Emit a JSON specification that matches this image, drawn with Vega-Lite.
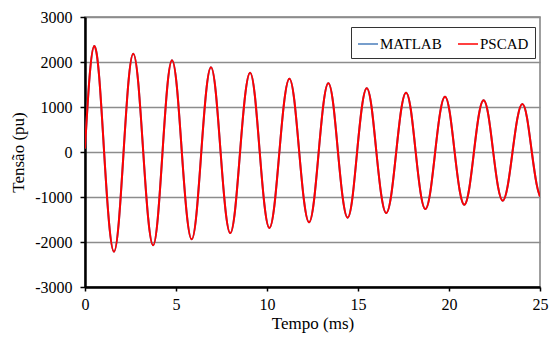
{
  "$schema": "https://vega.github.io/schema/vega-lite/v6.json",
  "width": 455,
  "height": 270,
  "autosize": {"type": "none"},
  "padding": {"left": 85, "top": 17, "right": 13, "bottom": 51},
  "background": "white",
  "config": {
    "font": "Liberation Serif",
    "view": {"stroke": "#808080", "strokeWidth": 1.5},
    "style": {
      "guide-label": {"font": "Liberation Serif", "fill": "#000"},
      "guide-title": {"font": "Liberation Serif", "fill": "#000", "fontWeight": "normal"}
    },
    "axis": {"labelFont": "Liberation Serif", "titleFont": "Liberation Serif", "labelColor": "#000", "titleColor": "#000", "titleFontWeight": "normal"}
  },
  "data": {
    "values": [
      {"t": 0.00, "MATLAB": 80, "PSCAD": 80},
      {"t": 0.25, "MATLAB": 1666, "PSCAD": 1666},
      {"t": 0.51, "MATLAB": 2356, "PSCAD": 2356},
      {"t": 0.78, "MATLAB": 1666, "PSCAD": 1666},
      {"t": 1.05, "MATLAB": 0, "PSCAD": 0},
      {"t": 1.32, "MATLAB": -1566, "PSCAD": -1566},
      {"t": 1.59, "MATLAB": -2215, "PSCAD": -2215},
      {"t": 1.855, "MATLAB": -1566, "PSCAD": -1566},
      {"t": 2.12, "MATLAB": 0, "PSCAD": 0},
      {"t": 2.385, "MATLAB": 1545, "PSCAD": 1545},
      {"t": 2.65, "MATLAB": 2185, "PSCAD": 2185},
      {"t": 2.925, "MATLAB": 1545, "PSCAD": 1545},
      {"t": 3.20, "MATLAB": 0, "PSCAD": 0},
      {"t": 3.47, "MATLAB": -1466, "PSCAD": -1466},
      {"t": 3.74, "MATLAB": -2074, "PSCAD": -2074},
      {"t": 4.00, "MATLAB": -1466, "PSCAD": -1466},
      {"t": 4.26, "MATLAB": 0, "PSCAD": 0},
      {"t": 4.52, "MATLAB": 1440, "PSCAD": 1440},
      {"t": 4.78, "MATLAB": 2037, "PSCAD": 2037},
      {"t": 5.05, "MATLAB": 1440, "PSCAD": 1440},
      {"t": 5.32, "MATLAB": 0, "PSCAD": 0},
      {"t": 5.59, "MATLAB": -1372, "PSCAD": -1372},
      {"t": 5.86, "MATLAB": -1941, "PSCAD": -1941},
      {"t": 6.125, "MATLAB": -1372, "PSCAD": -1372},
      {"t": 6.39, "MATLAB": 0, "PSCAD": 0},
      {"t": 6.655, "MATLAB": 1330, "PSCAD": 1330},
      {"t": 6.92, "MATLAB": 1881, "PSCAD": 1881},
      {"t": 7.185, "MATLAB": 1330, "PSCAD": 1330},
      {"t": 7.45, "MATLAB": 0, "PSCAD": 0},
      {"t": 7.715, "MATLAB": -1273, "PSCAD": -1273},
      {"t": 7.98, "MATLAB": -1800, "PSCAD": -1800},
      {"t": 8.25, "MATLAB": -1273, "PSCAD": -1273},
      {"t": 8.52, "MATLAB": 0, "PSCAD": 0},
      {"t": 8.795, "MATLAB": 1246, "PSCAD": 1246},
      {"t": 9.07, "MATLAB": 1763, "PSCAD": 1763},
      {"t": 9.335, "MATLAB": 1246, "PSCAD": 1246},
      {"t": 9.60, "MATLAB": 0, "PSCAD": 0},
      {"t": 9.865, "MATLAB": -1194, "PSCAD": -1194},
      {"t": 10.13, "MATLAB": -1689, "PSCAD": -1689},
      {"t": 10.405, "MATLAB": -1194, "PSCAD": -1194},
      {"t": 10.68, "MATLAB": 0, "PSCAD": 0},
      {"t": 10.955, "MATLAB": 1152, "PSCAD": 1152},
      {"t": 11.23, "MATLAB": 1630, "PSCAD": 1630},
      {"t": 11.50, "MATLAB": 1152, "PSCAD": 1152},
      {"t": 11.77, "MATLAB": 0, "PSCAD": 0},
      {"t": 12.04, "MATLAB": -1105, "PSCAD": -1105},
      {"t": 12.31, "MATLAB": -1563, "PSCAD": -1563},
      {"t": 12.575, "MATLAB": -1105, "PSCAD": -1105},
      {"t": 12.84, "MATLAB": 0, "PSCAD": 0},
      {"t": 13.105, "MATLAB": 1079, "PSCAD": 1079},
      {"t": 13.37, "MATLAB": 1526, "PSCAD": 1526},
      {"t": 13.635, "MATLAB": 1079, "PSCAD": 1079},
      {"t": 13.90, "MATLAB": 0, "PSCAD": 0},
      {"t": 14.165, "MATLAB": -1032, "PSCAD": -1032},
      {"t": 14.43, "MATLAB": -1459, "PSCAD": -1459},
      {"t": 14.69, "MATLAB": -1032, "PSCAD": -1032},
      {"t": 14.95, "MATLAB": 0, "PSCAD": 0},
      {"t": 15.215, "MATLAB": 1000, "PSCAD": 1000},
      {"t": 15.48, "MATLAB": 1415, "PSCAD": 1415},
      {"t": 15.745, "MATLAB": 1000, "PSCAD": 1000},
      {"t": 16.01, "MATLAB": 0, "PSCAD": 0},
      {"t": 16.28, "MATLAB": -959, "PSCAD": -959},
      {"t": 16.55, "MATLAB": -1356, "PSCAD": -1356},
      {"t": 16.825, "MATLAB": -959, "PSCAD": -959},
      {"t": 17.10, "MATLAB": 0, "PSCAD": 0},
      {"t": 17.37, "MATLAB": 933, "PSCAD": 933},
      {"t": 17.64, "MATLAB": 1319, "PSCAD": 1319},
      {"t": 17.905, "MATLAB": 933, "PSCAD": 933},
      {"t": 18.17, "MATLAB": 0, "PSCAD": 0},
      {"t": 18.435, "MATLAB": -896, "PSCAD": -896},
      {"t": 18.70, "MATLAB": -1267, "PSCAD": -1267},
      {"t": 18.97, "MATLAB": -896, "PSCAD": -896},
      {"t": 19.24, "MATLAB": 0, "PSCAD": 0},
      {"t": 19.51, "MATLAB": 870, "PSCAD": 870},
      {"t": 19.78, "MATLAB": 1230, "PSCAD": 1230},
      {"t": 20.045, "MATLAB": 870, "PSCAD": 870},
      {"t": 20.31, "MATLAB": 0, "PSCAD": 0},
      {"t": 20.575, "MATLAB": -827, "PSCAD": -827},
      {"t": 20.84, "MATLAB": -1170, "PSCAD": -1170},
      {"t": 21.105, "MATLAB": -827, "PSCAD": -827},
      {"t": 21.37, "MATLAB": 0, "PSCAD": 0},
      {"t": 21.635, "MATLAB": 812, "PSCAD": 812},
      {"t": 21.90, "MATLAB": 1148, "PSCAD": 1148},
      {"t": 22.165, "MATLAB": 812, "PSCAD": 812},
      {"t": 22.43, "MATLAB": 0, "PSCAD": 0},
      {"t": 22.69, "MATLAB": -764, "PSCAD": -764},
      {"t": 22.95, "MATLAB": -1081, "PSCAD": -1081},
      {"t": 23.22, "MATLAB": -764, "PSCAD": -764},
      {"t": 23.49, "MATLAB": 0, "PSCAD": 0},
      {"t": 23.76, "MATLAB": 754, "PSCAD": 754},
      {"t": 24.03, "MATLAB": 1067, "PSCAD": 1067},
      {"t": 24.29, "MATLAB": 754, "PSCAD": 754},
      {"t": 24.55, "MATLAB": 0, "PSCAD": 0},
      {"t": 24.81, "MATLAB": -707, "PSCAD": -707},
      {"t": 25.00, "MATLAB": -990, "PSCAD": -990}
    ]
  },
  "transform": [{"fold": ["MATLAB", "PSCAD"], "as": ["series", "v"]}],
  "mark": {"type": "line", "interpolate": "natural", "strokeWidth": 2, "clip": true},
  "encoding": {
    "x": {
      "field": "t", "type": "quantitative",
      "scale": {"domain": [0, 25], "nice": false},
      "axis": {
        "title": "Tempo (ms)", "titleFont": "Liberation Serif", "titleFontSize": 17, "titlePadding": 3,
        "values": [0, 5, 10, 15, 20, 25],
        "labelFont": "Liberation Serif", "labelFontSize": 16, "labelPadding": 5, "labelFlush": false,
        "tickSize": 4, "tickColor": "#000", "tickWidth": 1.5,
        "domainColor": "#000", "domainWidth": 2.5,
        "grid": false
      }
    },
    "y": {
      "field": "v", "type": "quantitative",
      "scale": {"domain": [-3000, 3000], "nice": false},
      "axis": {
        "title": "Tensão (pu)", "titleFont": "Liberation Serif", "titleFontSize": 17, "titlePadding": 7,
        "values": [-3000, -2000, -1000, 0, 1000, 2000, 3000],
        "labelExpr": "toString(datum.value)",
        "labelFont": "Liberation Serif", "labelFontSize": 16, "labelPadding": 8,
        "tickSize": 5, "tickColor": "#000", "tickWidth": 1.5,
        "domainColor": "#000", "domainWidth": 2.5,
        "grid": true, "gridColor": "#8c8c8c", "gridWidth": 1.3
      }
    },
    "color": {
      "field": "series", "type": "nominal",
      "scale": {"domain": ["MATLAB", "PSCAD"], "range": ["#4a7ebb", "#ff0000"]},
      "legend": {
        "title": null, "orient": "none", "direction": "horizontal",
        "legendX": 266, "legendY": 10,
        "symbolType": "stroke", "symbolSize": 400, "symbolStrokeWidth": 1.5,
        "labelFont": "Liberation Serif", "labelFontSize": 15, "labelColor": "#000",
        "labelOffset": 1, "columnPadding": 13, "padding": 6,
        "strokeColor": "#333", "fillColor": "white"
      }
    }
  }
}
